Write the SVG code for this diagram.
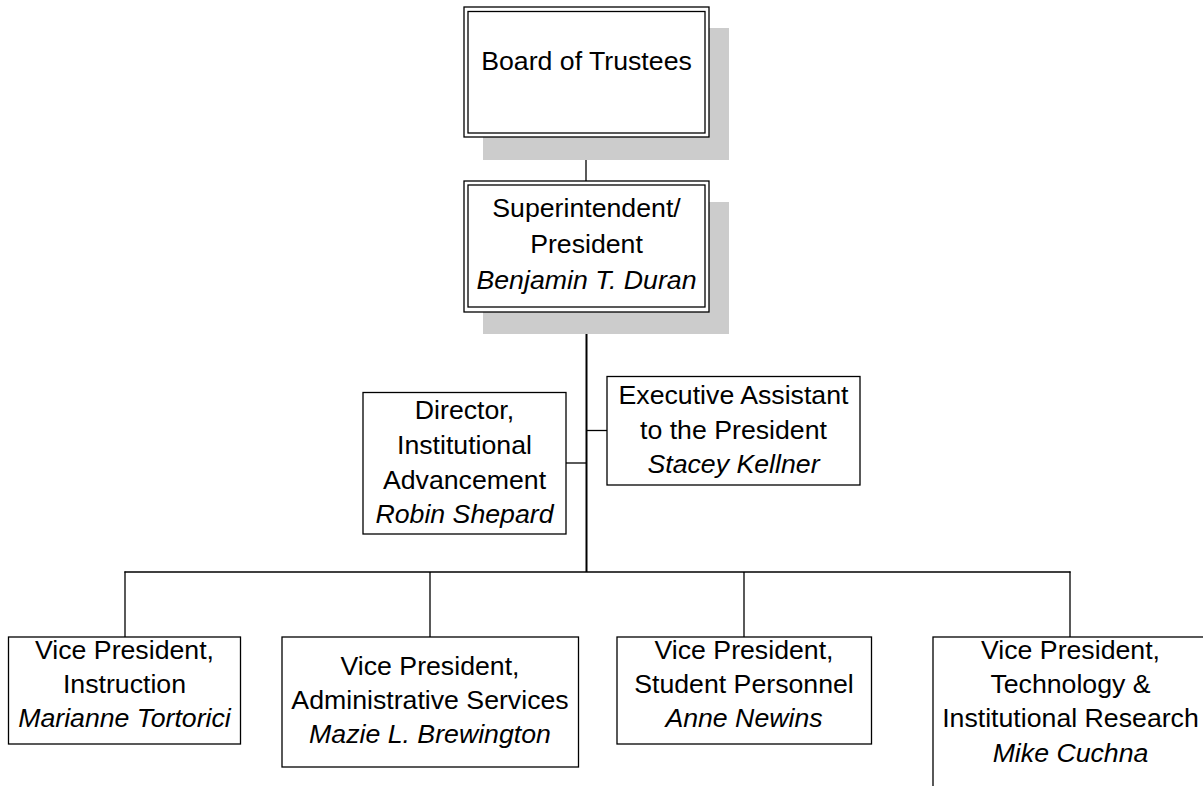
<svg xmlns="http://www.w3.org/2000/svg" width="1203" height="786" viewBox="0 0 1203 786">
<style>
text{font-family:"Liberation Sans",Arial,sans-serif;font-size:26.7px;fill:#000;text-anchor:middle}
.i{font-style:italic}
.box{fill:#fff;stroke:#000;stroke-width:1.3}
.shadow{fill:#cccccc;stroke:none}
.thin{stroke:#000;stroke-width:1.3;fill:none}
.bar{stroke:#000;stroke-width:1.6;fill:none}
.thick{stroke:#000;stroke-width:2;fill:none}
</style>
<rect width="1203" height="786" fill="#fff"/>
<g id="connectors">
<line class="thin" x1="586" y1="137" x2="586" y2="181"/>
<line class="thick" x1="586.5" y1="312" x2="586.5" y2="572"/>
<line class="thin" x1="566" y1="463" x2="586" y2="463"/>
<line class="thin" x1="586" y1="430.5" x2="607" y2="430.5"/>
<line class="bar" x1="124.4" y1="572" x2="1070.6" y2="572"/>
<line class="thin" x1="125" y1="571.5" x2="125" y2="637"/>
<line class="thin" x1="430" y1="572" x2="430" y2="637"/>
<line class="thin" x1="744" y1="572" x2="744" y2="637"/>
<line class="thin" x1="1070" y1="571.5" x2="1070" y2="637"/>
</g>
<g id="board">
<rect class="shadow" x="483" y="28" width="246" height="132"/>
<rect class="box" x="464" y="7" width="245" height="130"/>
<rect class="box" x="468" y="11.5" width="237" height="121.5"/>
<text x="586.5" y="70">Board of Trustees</text>
</g>
<g id="president">
<rect class="shadow" x="483" y="202" width="246" height="132"/>
<rect class="box" x="464" y="181" width="245" height="131"/>
<rect class="box" x="468" y="185" width="237" height="122"/>
<text x="586.5" y="217">Superintendent/</text>
<text x="586.5" y="253">President</text>
<text class="i" x="586.5" y="289">Benjamin T. Duran</text>
</g>
<g id="director">
<rect class="box" x="363" y="392.5" width="203" height="141.5"/>
<text x="464.5" y="419">Director,</text>
<text x="464.5" y="454">Institutional</text>
<text x="464.5" y="489">Advancement</text>
<text class="i" x="464.5" y="523">Robin Shepard</text>
</g>
<g id="exec-assistant">
<rect class="box" x="607" y="376.5" width="253" height="108.5"/>
<text x="733.5" y="404">Executive Assistant</text>
<text x="733.5" y="439">to the President</text>
<text class="i" x="733.5" y="473">Stacey Kellner</text>
</g>
<g id="vp-instruction">
<rect class="box" x="8.5" y="637" width="232" height="107"/>
<text x="124.5" y="659">Vice President,</text>
<text x="124.5" y="693">Instruction</text>
<text class="i" x="124.5" y="727">Marianne Tortorici</text>
</g>
<g id="vp-admin">
<rect class="box" x="282" y="637" width="296.5" height="130"/>
<text x="430" y="675">Vice President,</text>
<text x="430" y="709">Administrative Services</text>
<text class="i" x="430" y="743">Mazie L. Brewington</text>
</g>
<g id="vp-student">
<rect class="box" x="617" y="637" width="254.5" height="107"/>
<text x="744" y="659">Vice President,</text>
<text x="744" y="693">Student Personnel</text>
<text class="i" x="744" y="727">Anne Newins</text>
</g>
<g id="vp-technology">
<rect class="box" x="933" y="637" width="290" height="170"/>
<text x="1070.5" y="659">Vice President,</text>
<text x="1070.5" y="693">Technology &amp;</text>
<text x="1070.5" y="727">Institutional Research</text>
<text class="i" x="1070.5" y="761.5">Mike Cuchna</text>
</g>
</svg>
